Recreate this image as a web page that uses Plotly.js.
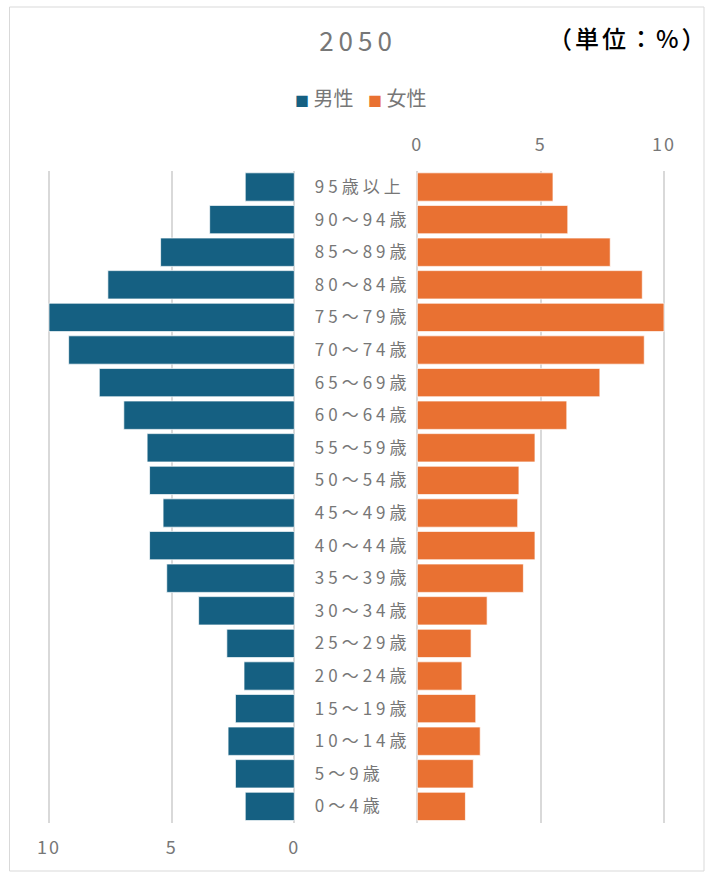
<!DOCTYPE html>
<html>
<head>
<meta charset="utf-8">
<script src="https://cdn.plot.ly/plotly-3.0.1.min.js"></script>
<style>
  html, body { margin: 0; padding: 0; background: #fff; }
  #chart { width: 713px; height: 874px; }
  /* wider tracking for the age labels, tick numbers and titles */
  #chart .ytick text { letter-spacing: 4px; }
  #chart .xtick text, #chart .x2tick text { letter-spacing: 2px; }
  #chart .gtitle { letter-spacing: 5px; }
  #chart .annotation-text.unit { letter-spacing: 3px; }
</style>
</head>
<body>
<div id="chart"></div>
<script>
// Age groups, youngest first (drawn bottom to top)
const ageGroups = [
  '0〜4歳', '5〜9歳', '10〜14歳', '15〜19歳', '20〜24歳', '25〜29歳',
  '30〜34歳', '35〜39歳', '40〜44歳', '45〜49歳', '50〜54歳', '55〜59歳',
  '60〜64歳', '65〜69歳', '70〜74歳', '75〜79歳', '80〜84歳', '85〜89歳',
  '90〜94歳', '95歳以上'
];
// Share of population by age group (%)
const male = [
  2.0, 2.4, 2.7, 2.4, 2.05, 2.75,
  3.9, 5.2, 5.9, 5.35, 5.9, 6.0,
  6.95, 7.95, 9.2, 10.0, 7.6, 5.45,
  3.45, 2.0
];
const female = [
  1.95, 2.27, 2.55, 2.37, 1.81, 2.18,
  2.83, 4.3, 4.77, 4.07, 4.12, 4.77,
  6.06, 7.4, 9.2, 10.0, 9.12, 7.82,
  6.1, 5.5
];
const xTicks = [0, 5, 10];
const seriesNames = ['男性', '女性'];
const seriesColors = ['#156082', '#E97132'];

const W = 713, H = 874;
const px = v => v / W;
const py = v => 1 - v / H;

const cjk = '"Noto Sans CJK JP", "Noto Sans", sans-serif';
const textGray = '#777777';
const labelFont = { family: cjk, size: 17, color: textGray };
const tickFont = { family: cjk, size: 18, color: textGray };
const gridColor = '#D9D9D9';

// a small pad keeps the 0 and 10 grid lines inside the plot area
const pad = 0.06;
const pxPerUnitL = (294.3 - 49) / 10;
const pxPerUnitR = (664 - 417.3) / 10;

const traces = [
  {
    type: 'bar', orientation: 'h', name: seriesNames[0],
    x: male, y: ageGroups, xaxis: 'x', yaxis: 'y',
    marker: { color: seriesColors[0], line: { color: 'rgba(255,255,255,0.7)', width: 1 } },
    hoverinfo: 'x+y'
  },
  {
    type: 'bar', orientation: 'h', name: seriesNames[1],
    x: female, y: ageGroups, xaxis: 'x2', yaxis: 'y2',
    marker: { color: seriesColors[1], line: { color: 'rgba(255,255,255,0.7)', width: 1 } },
    hoverinfo: 'x+y'
  }
];

// legend entries: colour square followed by the series name
function legendItem(i, left) {
  return {
    text: '<span style="font-size:14px;color:' + seriesColors[i] + '">■</span> ' + seriesNames[i],
    xref: 'paper', yref: 'paper', x: px(left), y: py(98),
    xanchor: 'left', yanchor: 'middle', showarrow: false,
    font: { family: cjk, size: 20, color: textGray }
  };
}

const layout = {
  width: W, height: H,
  margin: { l: 0, r: 0, t: 0, b: 0 },
  paper_bgcolor: '#fff', plot_bgcolor: 'rgba(0,0,0,0)',
  bargap: 0.13,
  font: labelFont,
  title: {
    text: '2050',
    x: px(358), xanchor: 'center', xref: 'paper',
    y: py(42), yanchor: 'middle', yref: 'paper',
    font: { family: cjk, size: 26, color: textGray }
  },
  showlegend: false,
  xaxis: {
    domain: [px(49 - pad * pxPerUnitL), px(294.3 + pad * pxPerUnitL)],
    range: [10 + pad, -pad],
    tickvals: xTicks, ticktext: xTicks.map(String),
    side: 'bottom', anchor: 'y',
    showgrid: true, gridcolor: gridColor, gridwidth: 2,
    zeroline: false, showline: false,
    ticks: '', ticklabelstandoff: 12,
    tickfont: tickFont, fixedrange: true
  },
  xaxis2: {
    domain: [px(417.3 - pad * pxPerUnitR), px(664 + pad * pxPerUnitR)],
    range: [-pad, 10 + pad],
    tickvals: xTicks, ticktext: xTicks.map(String),
    side: 'top', anchor: 'y2',
    showgrid: true, gridcolor: gridColor, gridwidth: 2,
    zeroline: false, showline: false,
    ticks: '', ticklabelstandoff: 15,
    tickfont: tickFont, fixedrange: true
  },
  yaxis: {
    domain: [py(822.7), py(170.7)],
    type: 'category', categoryorder: 'array', categoryarray: ageGroups,
    range: [-0.5, ageGroups.length - 0.5],
    anchor: 'x', side: 'right',
    showgrid: false, zeroline: false, showline: false,
    ticks: '', ticklabelstandoff: 18,
    tickfont: labelFont, fixedrange: true
  },
  yaxis2: {
    domain: [py(822.7), py(170.7)],
    type: 'category', categoryorder: 'array', categoryarray: ageGroups,
    range: [-0.5, ageGroups.length - 0.5],
    anchor: 'x2', showticklabels: false,
    showgrid: false, zeroline: false, showline: false, fixedrange: true
  },
  annotations: [
    {
      text: '（単位：%）', xref: 'paper', yref: 'paper',
      x: px(555), y: py(37), xanchor: 'left', yanchor: 'middle',
      showarrow: false,
      font: { family: cjk, size: 24, color: '#000', weight: 500 }
    },
    legendItem(0, 293),
    legendItem(1, 366)
  ],
  shapes: [
    {
      type: 'rect', xref: 'paper', yref: 'paper',
      x0: px(9.5), x1: px(704), y0: py(871), y1: py(7),
      line: { color: '#D9D9D9', width: 1 }, fillcolor: 'rgba(0,0,0,0)'
    }
  ]
};

Plotly.newPlot('chart', traces, layout, { displayModeBar: false, staticPlot: true }).then(gd => {
  // tag the unit note so the stylesheet can widen its tracking
  const notes = gd.querySelectorAll('.annotation-text');
  if (notes.length) notes[0].classList.add('unit');
});
</script>
</body>
</html>
